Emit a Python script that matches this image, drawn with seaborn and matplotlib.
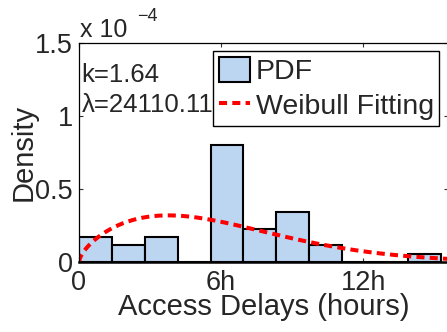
import numpy as np
import pandas as pd
import matplotlib
matplotlib.use("Agg")
import matplotlib.pyplot as plt
import seaborn as sns

# ---- data ----
bin_edges_s = [0, 5000, 10000, 15000, 20000, 25000, 30000, 35000, 40000, 45000, 50000, 55000]
bin_counts = [3, 2, 3, 0, 14, 4, 6, 2, 0, 0, 1]
weibull_k = 1.64
weibull_lambda = 24110.11
x_tick_values = [0, 21600, 43200]
x_tick_labels = ["0", "6h", "12h"]
y_tick_values = [0, 0.5e-4, 1.0e-4, 1.5e-4]
y_tick_labels = ["0", "0.5", "1", "1.5"]
x_limit = (0, 56100)
y_limit = (0, 1.5e-4)

bin_centers = [(a + b) / 2 for a, b in zip(bin_edges_s[:-1], bin_edges_s[1:])]
hist_df = pd.DataFrame({"delay": bin_centers, "count": bin_counts})

# fitted Weibull pdf from the displayed parameters
curve_x = np.linspace(x_limit[0], x_limit[1], 400)
curve_y = (weibull_k / weibull_lambda) * (curve_x / weibull_lambda) ** (weibull_k - 1) \
    * np.exp(-(curve_x / weibull_lambda) ** weibull_k)
curve_df = pd.DataFrame({"delay": curve_x, "density": curve_y})

sns.set_style("ticks")
plt.rcParams["font.family"] = ["Liberation Sans", "DejaVu Sans"]

fig = plt.figure(figsize=(4.47, 3.32), dpi=100)
ax = fig.add_axes([79 / 447, 70 / 332, 369 / 447, 219.3 / 332])

sns.histplot(data=hist_df, x="delay", weights="count", bins=bin_edges_s,
             stat="density", color="#BCD5F1", alpha=1.0, edgecolor="black",
             linewidth=1.5, ax=ax, label="PDF")
sns.lineplot(data=curve_df, x="delay", y="density", color="red", linewidth=2.9,
             linestyle=(0, (2.0, 1.3)), ax=ax, label="Weibull Fitting")

ax.set_xlim(*x_limit)
ax.set_ylim(*y_limit)
ax.set_xticks(x_tick_values)
ax.set_xticklabels(x_tick_labels)
ax.set_yticks(y_tick_values)
ax.set_yticklabels(y_tick_labels)
ax.tick_params(axis="both", direction="in", length=3, width=0.8, top=True, right=True,
               labelsize=19.5, color="#333333")
ax.tick_params(axis="x", pad=5.5)
ax.tick_params(axis="y", pad=4.3)
for s in ["left", "right", "top"]:
    ax.spines[s].set_visible(True)
    ax.spines[s].set_linewidth(0.9)
    ax.spines[s].set_color("black")
ax.spines["bottom"].set_linewidth(1.8)
ax.spines["bottom"].set_color("black")

ax.set_xlabel("Access Delays (hours)", fontsize=21)
ax.set_ylabel("Density", fontsize=21)
ax.xaxis.set_label_coords(0.5, -0.1436)
ax.yaxis.set_label_coords(-0.111, 0.5)

ax.annotate("k=1.64", xy=(0, 1), xycoords="axes fraction", xytext=(1.9, -28.3),
            textcoords="offset points", ha="left", va="baseline", fontsize=18.5)
ax.annotate("\u03bb=24110.11", xy=(0, 1), xycoords="axes fraction", xytext=(1.9, -49.9),
            textcoords="offset points", ha="left", va="baseline", fontsize=18.5)
ax.annotate("x 10", xy=(0, 1), xycoords="axes fraction", xytext=(0.7, 4.3),
            textcoords="offset points", ha="left", va="baseline", fontsize=18,
            annotation_clip=False)
ax.annotate("\u22124", xy=(0, 1), xycoords="axes fraction", xytext=(41.8, 15.8),
            textcoords="offset points", ha="left", va="baseline", fontsize=13,
            annotation_clip=False)

handles, labels = ax.get_legend_handles_labels()
order = [labels.index("PDF"), labels.index("Weibull Fitting")]
leg = ax.legend([handles[i] for i in order], [labels[i] for i in order],
                loc="upper right", fontsize=20.5, frameon=True, fancybox=False,
                framealpha=1.0, edgecolor="black", handlelength=1.1, handleheight=0.97,
                handletextpad=0.2, labelspacing=0.24, borderpad=0.2,
                borderaxespad=0.3)
leg.get_frame().set_linewidth(1.0)
leg.set_zorder(10)

fig.savefig("out.png", dpi=100)
